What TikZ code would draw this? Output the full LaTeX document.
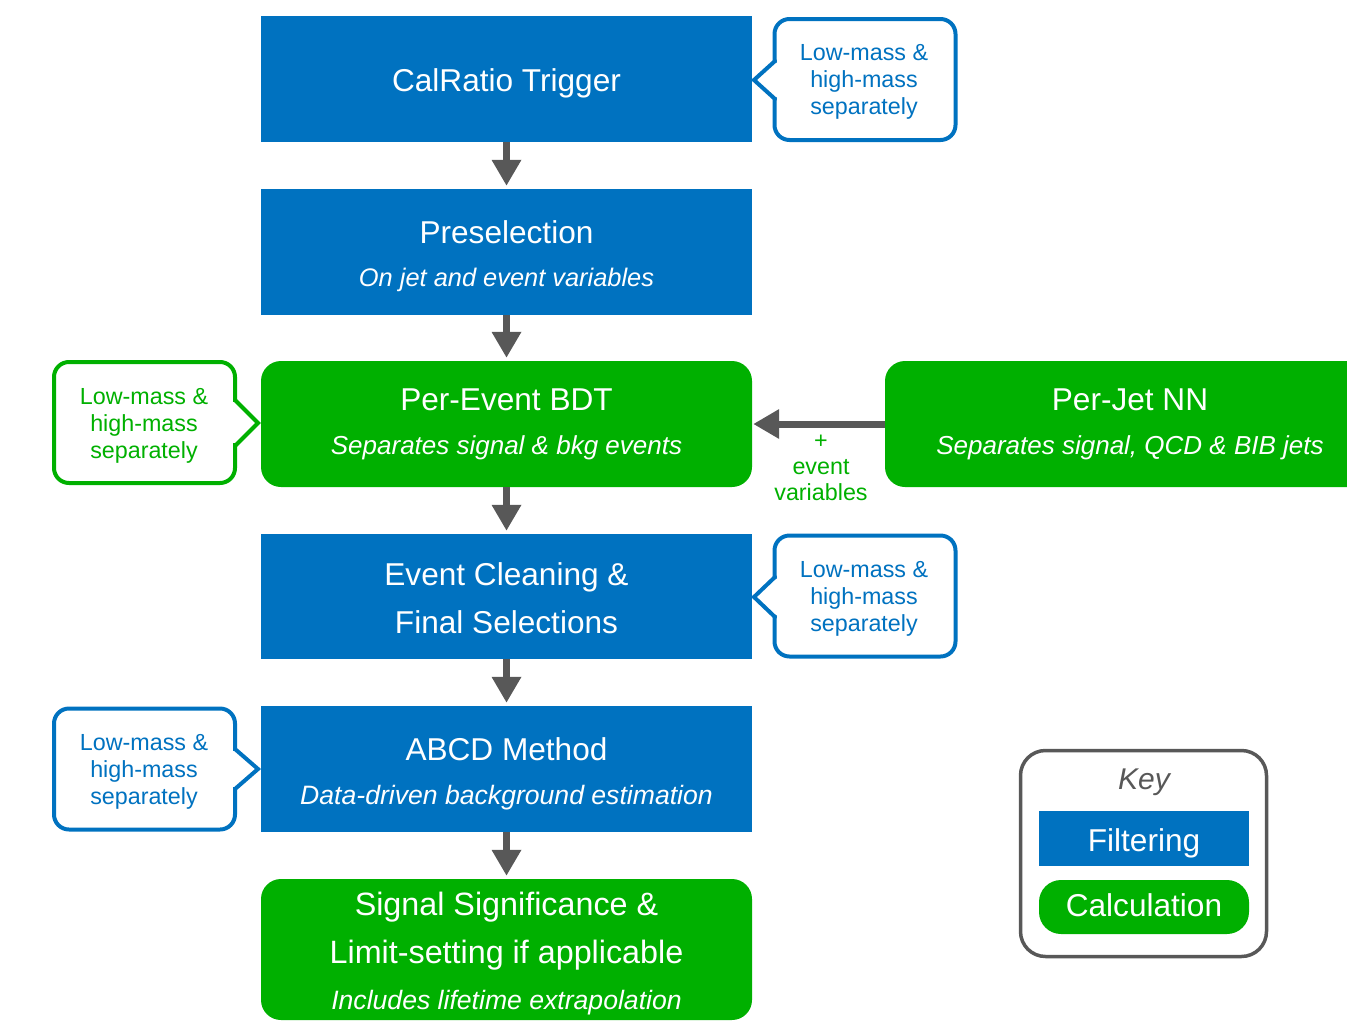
\documentclass[tikz,border=0pt]{standalone}
\usepackage{fontspec}
\setmainfont{Liberation Sans}
\usetikzlibrary{arrows.meta}
\definecolor{fblue}{RGB}{0,114,192}
\definecolor{cgreen}{RGB}{0,176,0}
\definecolor{agray}{RGB}{88,88,88}
\newcommand\fsz[2]{\fontsize{#1}{#2}\selectfont}
\begin{document}
\begin{tikzpicture}[x=1pt,y=-1pt,
  filterbox/.style={fill=fblue, draw=none, minimum width=491pt, minimum height=126pt, inner sep=0pt},
  calcbox/.style={fill=cgreen, draw=none, rounded corners=20pt, minimum width=491pt, minimum height=126pt, inner sep=0pt},
  title/.style={text=white, anchor=base, font=\fsz{31.6}{36}, inner sep=0pt},
  bigtitle/.style={title, font=\fsz{32.3}{36}},
  sub/.style={text=white, anchor=base, font=\fsz{26}{30}\itshape, inner sep=0pt},
  widesub/.style={sub, font=\fsz{26.6}{30}\itshape},
  flow/.style={draw=agray, line width=7pt, -{Triangle[length=26pt,width=28pt]}, shorten >=3pt},
  callbox/.style={draw=#1, line width=4pt, rounded corners=15pt, fill=white,
    minimum width=181pt, minimum height=121pt, inner sep=0pt},
  calltext/.style={align=center, text=#1, font=\fsz{23.3}{27}, inner sep=0pt},
  notch/.style={draw=#1, line width=4pt, line cap=round, line join=miter},
]
\useasboundingbox (0,0) rectangle (1347,1021);
\clip (0,0) rectangle (1347,1021);

% main flow boxes
\node[filterbox] (trig)  at (506.5,79)    {};
\node[filterbox] (pre)   at (506.5,252)   {};
\node[calcbox]   (bdt)   at (506.5,424)   {};
\node[filterbox, minimum height=125pt] (clean) at (506.5,596.5) {};
\node[filterbox] (abcd)  at (506.5,769)   {};
\node[calcbox, minimum height=141pt] (sig) at (506.5,949.5) {};
\node[calcbox, minimum width=490pt] (nn) at (1130,424) {};

% box texts
\node[title] (trig-t)  at (506.5,91)  {CalRatio Trigger};
\node[title] (pre-t)   at (506.5,243) {Preselection};
\node[sub, font=\fsz{25.4}{30}\itshape] (pre-s) at (506.5,286) {On jet and event variables};
\node[title] (bdt-t)   at (506.5,410) {Per-Event BDT};
\node[sub]   (bdt-s)   at (506.5,454) {Separates signal \& bkg events};
\node[title] (clean-t) at (506.5,585) {Event Cleaning \&};
\node[title] (clean-s) at (506.5,633) {Final Selections};
\node[title] (abcd-t)  at (506.5,760) {ABCD Method};
\node[widesub] (abcd-s) at (506.5,804) {Data-driven background estimation};
\node[bigtitle] (sig-t) at (506.5,915) {Signal Significance \&};
\node[bigtitle] (sig-u) at (506.5,963) {Limit-setting if applicable};
\node[widesub] (sig-s) at (506.5,1009) {Includes lifetime extrapolation};
\node[title] (nn-t)    at (1130,410)  {Per-Jet NN};
\node[sub]   (nn-s)    at (1130,454)  {Separates signal, QCD \& BIB jets};

% connectors
\draw[flow] (trig.south)  -- (pre.north);
\draw[flow] (pre.south)   -- (bdt.north);
\draw[flow] (bdt.south)   -- (clean.north);
\draw[flow] (clean.south) -- (abcd.north);
\draw[flow] (abcd.south)  -- (sig.north);
\draw[flow, shorten >=1pt] (nn.west) -- (bdt.east);
\node[calltext=cgreen, font=\fsz{23.3}{26}] (ev) at (821,468) {+\\event\\variables};

% side callouts
\node[callbox=fblue] (c1) at (865,79.5) {};
\node[calltext=fblue] (c1-t) at (864,82) {Low-mass \&\\high-mass\\separately};
\fill[white] (770,63) rectangle (780,97);
\draw[notch=fblue] (775,61) -- (754,80) -- (775,99);

\node[callbox=cgreen] (c2) at (144.5,422.5) {};
\node[calltext=cgreen] (c2-t) at (144,426) {Low-mass \&\\high-mass\\separately};
\fill[white] (230,402) rectangle (240,443);
\draw[notch=cgreen] (235,400) -- (258,423) -- (235,446);

\node[callbox=fblue] (c3) at (865,596) {};
\node[calltext=fblue] (c3-t) at (864,599) {Low-mass \&\\high-mass\\separately};
\fill[white] (770,579) rectangle (780,615);
\draw[notch=fblue] (775,577) -- (754,597) -- (775,617);

\node[callbox=fblue] (c4) at (144.5,769) {};
\node[calltext=fblue] (c4-t) at (144,772) {Low-mass \&\\high-mass\\separately};
\fill[white] (230,751) rectangle (240,787);
\draw[notch=fblue] (235,749) -- (258,769) -- (235,789);

% key
\node[draw=agray, line width=3.5pt, rounded corners=25pt, minimum width=246pt, minimum height=206pt] (key) at (1143.5,853.5) {};
\node[anchor=base, font=\fsz{30}{34}\itshape, text=agray, inner sep=0pt] (key-t) at (1144,789) {Key};
\node[filterbox, minimum width=210pt, minimum height=55pt] (kf) at (1144,838.5) {};
\node[title] (kf-t) at (1144,851) {Filtering};
\node[calcbox, minimum width=210pt, minimum height=54pt, rounded corners=22pt] (kc) at (1144,907) {};
\node[title] (kc-t) at (1144,916) {Calculation};
\end{tikzpicture}
\end{document}
